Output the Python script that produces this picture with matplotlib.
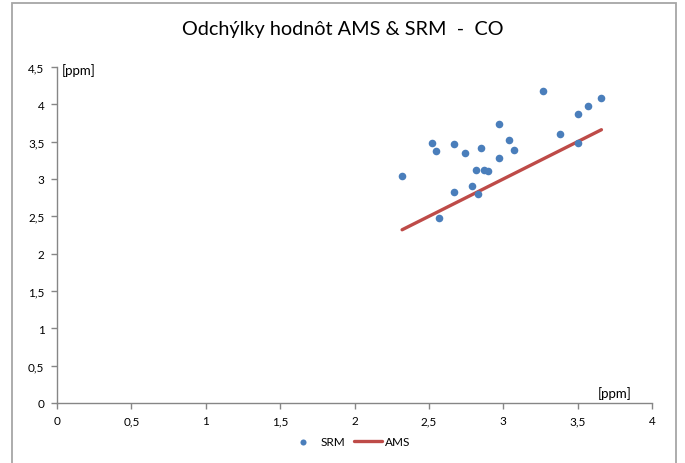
import matplotlib
matplotlib.use("Agg")
import matplotlib.pyplot as plt
from matplotlib.patches import Rectangle
from matplotlib.ticker import FuncFormatter, MultipleLocator

# AMS reference readings (x) and SRM readings (y), ppm
ams = [2.32, 2.52, 2.55, 2.57, 2.67, 2.67, 2.74, 2.79, 2.82, 2.83, 2.85, 2.87,
       2.90, 2.97, 2.97, 3.04, 3.07, 3.27, 3.38, 3.50, 3.50, 3.57, 3.66]
srm = [3.04, 3.48, 3.38, 2.48, 3.47, 2.83, 3.35, 2.90, 3.12, 2.80, 3.42, 3.12,
       3.11, 3.73, 3.28, 3.52, 3.39, 4.18, 3.60, 3.87, 3.48, 3.98, 4.08]

title = "Odchýlky hodnôt AMS & SRM  -  CO"
unit = "[ppm]"

plt.rcParams['font.family'] = ['Lato', 'DejaVu Sans']

fig = plt.figure(figsize=(6.85, 4.64), dpi=100)
ax = fig.add_axes([57 / 685, 1 - 404 / 464, (652 - 57) / 685, (404 - 68) / 464])

# outer chart frame
fig.patches.append(Rectangle((12 / 685, -0.05), (676 - 12) / 685, 1 - 4 / 464 + 0.05,
                             transform=fig.transFigure, fill=False,
                             edgecolor='#a6a6a6', linewidth=1.3))

ax.scatter(ams, srm, s=30, color='#4a7ebb', zorder=3, label='SRM', linewidths=0)
line_x = sorted(ams)
ax.plot([line_x[0], line_x[-1]], [line_x[0], line_x[-1]], color='#be4b48',
        linewidth=2.4, zorder=2, label='AMS', solid_capstyle='round')

ax.set_xlim(0, 4)
ax.set_ylim(0, 4.5)
ax.xaxis.set_major_locator(MultipleLocator(0.5))
ax.yaxis.set_major_locator(MultipleLocator(0.5))
fmt = FuncFormatter(lambda v, p: ('%g' % v).replace('.', ','))
ax.xaxis.set_major_formatter(fmt)
ax.yaxis.set_major_formatter(fmt)

for s in ['top', 'right']:
    ax.spines[s].set_visible(False)
for s in ['left', 'bottom']:
    ax.spines[s].set_color('#868686')
    ax.spines[s].set_linewidth(1.0)
ax.tick_params(axis='both', which='major', direction='out', length=4, width=1,
               color='#868686', labelsize=8.5, labelcolor='#000000')
ax.tick_params(axis='x', pad=5)
ax.tick_params(axis='y', pad=5)

fig.text(0.5, 1 - 29 / 464, title, ha='center', va='center', fontsize=14.3)
fig.text(62 / 685, 1 - 71 / 464, unit, ha='left', va='center', fontsize=9.5)
fig.text(632 / 685, 1 - 394 / 464, unit, ha='right', va='center', fontsize=9.5)

ax.legend(loc='center', bbox_to_anchor=(350 / 685, 1 - 443 / 464),
          bbox_transform=fig.transFigure, ncol=2, frameon=False, fontsize=8.5,
          handlelength=2.3, columnspacing=0.8, handletextpad=0.3,
          markerscale=0.8)

fig.savefig('out.png', dpi=100)
